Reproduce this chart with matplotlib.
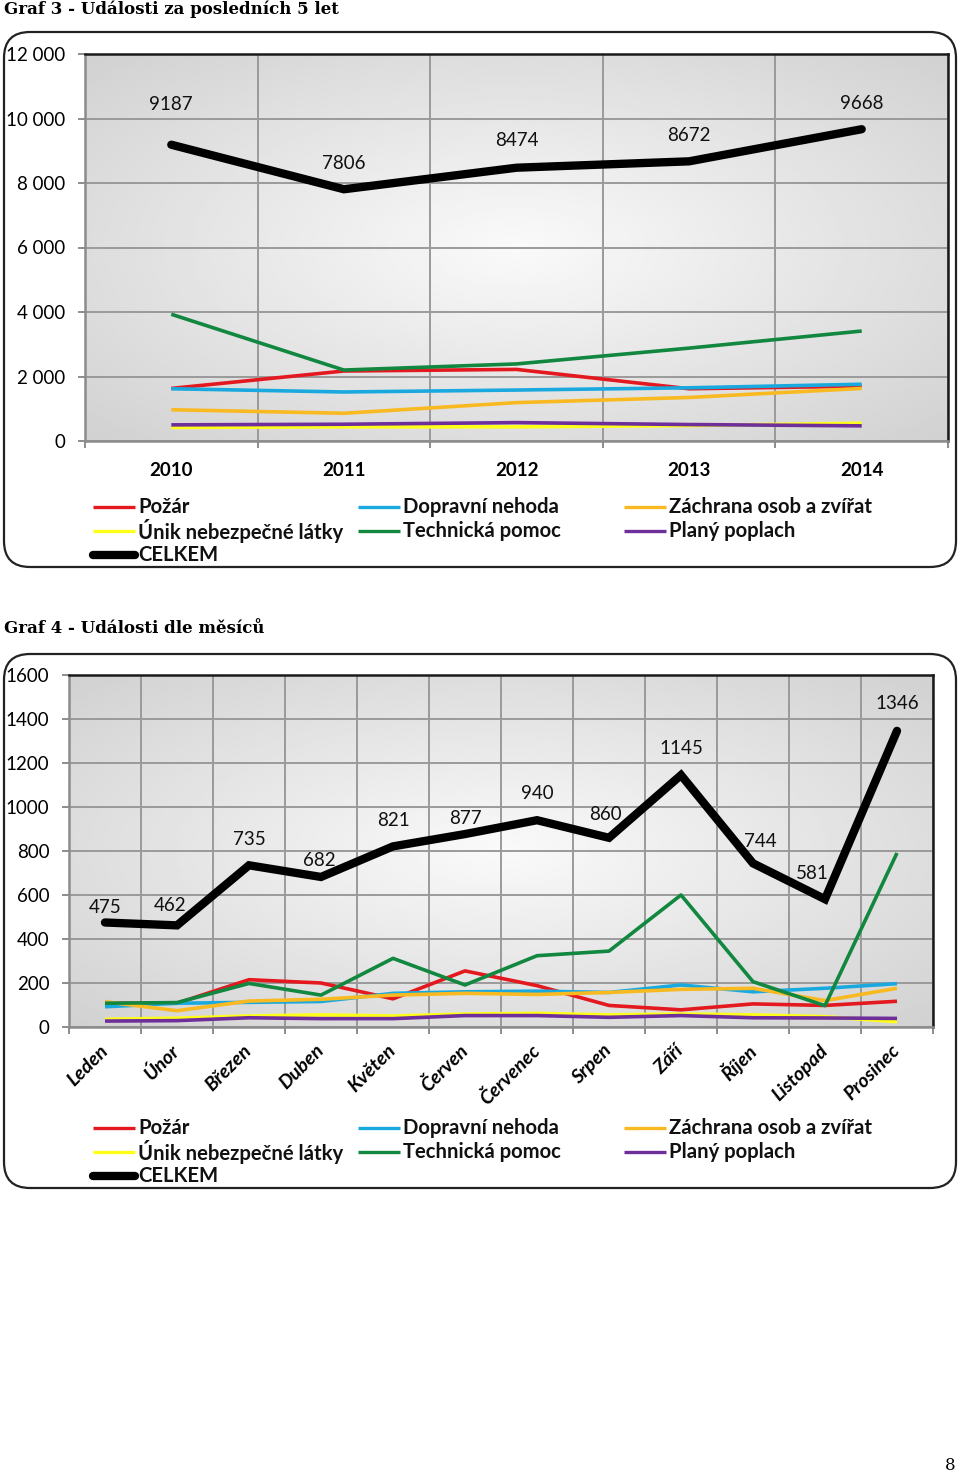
import numpy as np
import matplotlib.pyplot as plt
from matplotlib.lines import Line2D
from matplotlib.patches import FancyBboxPatch
from matplotlib.ticker import FuncFormatter

# --- data ---------------------------------------------------------------
years = ['2010', '2011', '2012', '2013', '2014']
months = ['Leden', 'Únor', 'Březen', 'Duben', 'Květen', 'Červen',
          'Červenec', 'Srpen', 'Září', 'Říjen', 'Listopad', 'Prosinec']

names = ['Požár', 'Dopravní nehoda', 'Záchrana osob a zvířat',
         'Únik nebezpečné látky', 'Technická pomoc', 'Planý poplach', 'CELKEM']

pozar_y = [1630, 2170, 2220, 1620, 1700]
doprava_y = [1620, 1520, 1580, 1650, 1760]
zachrana_y = [970, 860, 1190, 1350, 1630]
unik_y = [420, 440, 440, 480, 550]
technicka_y = [3930, 2200, 2390, 2880, 3410]
plany_y = [500, 520, 570, 510, 470]
celkem_y = [9187, 7806, 8474, 8672, 9668]

pozar_m = [108, 108, 215, 200, 128, 255, 188, 98, 78, 105, 98, 117]
doprava_m = [92, 108, 112, 116, 153, 160, 163, 157, 191, 160, 176, 197]
zachrana_m = [115, 74, 118, 126, 145, 153, 148, 157, 171, 176, 120, 176]
unik_m = [35, 40, 50, 55, 50, 59, 62, 55, 59, 55, 47, 24]
technicka_m = [108, 111, 198, 145, 312, 191, 324, 345, 600, 206, 97, 791]
plany_m = [27, 29, 42, 38, 38, 52, 52, 44, 52, 42, 41, 39]
celkem_m = [475, 462, 735, 682, 821, 877, 940, 860, 1145, 744, 581, 1346]

colors = ['#e3191f', '#1aa9df', '#f9b921', '#ffff1a', '#11873f', '#6f2f9b', '#000000']
widths = [2.6, 2.6, 2.6, 2.6, 2.6, 2.6, 6.0]

# label offsets (pixels) for the CELKEM data labels
off_y = [(0, 40), (0, 26), (0, 27), (0, 26), (0, 26)]
off_m = [(0, 15), (-7, 20), (0, 26), (-2, 16), (0, 26), (0, 16), (0, 27),
         (-4, 23), (0, 27), (7, 22), (-13, 26), (0, 27)]

W, H = 960, 1476
FONT = 'Lato'
FS = 13.5
plt.rcParams['font.family'] = [FONT, 'DejaVu Sans']


def px_box(fig, top, bottom):
    box = FancyBboxPatch((4 / 100, (H - bottom) / 100), 952 / 100, (bottom - top) / 100,
                         boxstyle='round,pad=0,rounding_size=0.26',
                         transform=fig.dpi_scale_trans, fc='white', ec='#222222',
                         lw=1.6, zorder=0)
    fig.add_artist(box)


def gradient_bg(ax):
    yy, xx = np.mgrid[-1:1:200j, -1:1:200j]
    r = np.sqrt(xx ** 2 + yy ** 2) / np.sqrt(2)
    img = 0.98 - 0.16 * r
    ax.imshow(img, cmap='gray', vmin=0, vmax=1, extent=[0, 1, 0, 1],
              transform=ax.transAxes, aspect='auto', zorder=0, interpolation='bilinear')


def style_axes(ax, n):
    gradient_bg(ax)
    ax.set_xlim(-0.5, n - 0.5)
    ax.set_xticks(np.arange(-0.5, n))
    ax.set_xticklabels([])
    ax.set_xticks(np.arange(n), minor=True)
    ax.grid(True, which='major', color='#9a9a9a', lw=1.4)
    for s in ['left', 'bottom']:
        ax.spines[s].set_color('#8c8c8c')
        ax.spines[s].set_linewidth(1.8)
    for s in ['top', 'right']:
        ax.spines[s].set_color('#1a1a1a')
        ax.spines[s].set_linewidth(1.8)
    ax.tick_params(which='major', length=5, width=1.4, color='#8c8c8c')
    ax.tick_params(which='minor', length=0)
    ax.tick_params(axis='y', labelsize=FS, pad=9)


def draw_legend(fig, top):
    cols = [93, 358, 624]
    for i in range(len(names)):
        r, c = divmod(i, 3)
        y = (H - (top + r * 24)) / 100
        x0 = cols[c] / 100
        fig.add_artist(Line2D([x0, x0 + 0.42], [y, y], transform=fig.dpi_scale_trans,
                              color=colors[i], lw=2.4 if i < 6 else 6,
                              solid_capstyle='round' if i == 6 else 'butt'))
        fig.text(x0 + 0.45, y, names[i], transform=fig.dpi_scale_trans,
                 fontsize=14.6, fontweight='bold', va='center', ha='left', color='#111111')


def plot_series(ax, data, offsets):
    x = np.arange(len(data[0]))
    for d, c, w in zip(data, colors, widths):
        ax.plot(x, d, color=c, lw=w, solid_capstyle='round' if w > 3 else 'butt',
                solid_joinstyle='miter' if w > 3 else 'round', zorder=3)
    for xi, v, (dx, dy) in zip(x, data[-1], offsets):
        ax.annotate(str(v), (xi, v), xytext=(dx, dy), textcoords='offset pixels',
                    ha='center', va='center', fontsize=FS, color='#111111', zorder=4)


fig = plt.figure(figsize=(W / 100, H / 100), dpi=100)

# --- Graf 3 -------------------------------------------------------------
fig.text(4 / W, 1 - 9 / H, 'Graf 3 - Události za posledních 5 let',
         family='DejaVu Serif', fontweight='bold', fontsize=12, va='center')
px_box(fig, 32, 567)

ax1 = fig.add_axes([85 / W, 1 - 441 / H, 863 / W, 387 / H])
style_axes(ax1, len(years))
ax1.set_ylim(0, 12000)
ax1.set_yticks(np.arange(0, 12001, 2000))
ax1.yaxis.set_major_formatter(FuncFormatter(lambda v, p: f'{int(v):,}'.replace(',', ' ')))
ax1.set_xticklabels(years, minor=True, fontsize=FS, fontweight='bold')
ax1.tick_params(axis='x', which='minor', pad=15)
plot_series(ax1, [pozar_y, doprava_y, zachrana_y, unik_y, technicka_y, plany_y, celkem_y], off_y)
draw_legend(fig, 507)

# --- Graf 4 -------------------------------------------------------------
fig.text(4 / W, 1 - 629 / H, 'Graf 4 - Události dle měsíců',
         family='DejaVu Serif', fontweight='bold', fontsize=12, va='center')
px_box(fig, 654, 1188)

ax2 = fig.add_axes([69 / W, 1 - 1027 / H, 864 / W, 352 / H])
style_axes(ax2, len(months))
ax2.set_ylim(0, 1600)
ax2.set_yticks(np.arange(0, 1601, 200))
ax2.set_xticklabels(months, minor=True, fontsize=14, fontweight='bold',
                    fontstyle='italic', rotation=45, ha='right', va='center',
                    rotation_mode='anchor')
ax2.tick_params(axis='x', which='minor', pad=15)
plot_series(ax2, [pozar_m, doprava_m, zachrana_m, unik_m, technicka_m, plany_m, celkem_m], off_m)
draw_legend(fig, 1128)

fig.text(950 / W, 1 - 1466 / H, '8', family='DejaVu Serif', fontsize=12, ha='center', va='center')

fig.savefig('out.png', dpi=100)
